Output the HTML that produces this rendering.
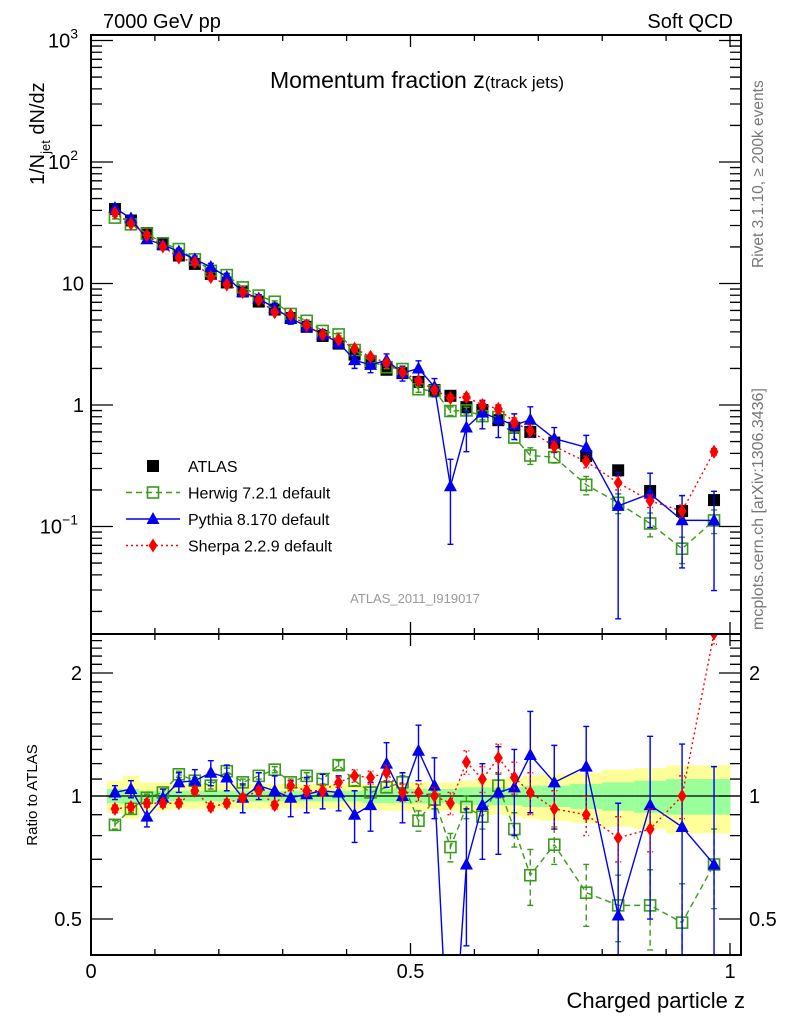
<!DOCTYPE html>
<html><head><meta charset="utf-8"><style>
html,body{margin:0;padding:0;background:#fff;overflow:hidden;width:786px;height:1024px}
svg{display:block}
svg text{font-family:"Liberation Sans","DejaVu Sans",sans-serif}
</style></head><body>
<svg id="c" width="786" height="1024" xmlns="http://www.w3.org/2000/svg">
<defs>
<clipPath id="cm"><rect x="91" y="35" width="650" height="599"/></clipPath>
<clipPath id="cr"><rect x="91" y="634" width="650" height="321"/></clipPath>
</defs>
<text x="103" y="28" font-size="20">7000 GeV pp</text>
<text x="733" y="28" font-size="20" text-anchor="end">Soft QCD</text>
<text x="417" y="88" font-size="23" text-anchor="middle">Momentum fraction z<tspan font-size="17">(track jets)</tspan></text>
<text transform="translate(44,185) rotate(-90)" font-size="20">1/N<tspan font-size="13" dy="6">jet</tspan><tspan dy="-6"> dN/dz</tspan></text>
<text transform="translate(763,268) rotate(-90)" font-size="15.5" fill="#777">Rivet 3.1.10, ≥ 200k events</text>
<text transform="translate(763,630) rotate(-90)" font-size="16" fill="#777">mcplots.cern.ch [arXiv:1306.3436]</text>
<text x="415" y="603" font-size="13" fill="#999" text-anchor="middle">ATLAS_2011_I919017</text>
<text transform="translate(37,795) rotate(-90)" font-size="15" text-anchor="middle">Ratio to ATLAS</text>
<text x="745" y="1008" font-size="22" text-anchor="end">Charged particle z</text>
<g id="band"></g><g id="grid"></g><g id="marks"></g><g id="axes"></g><g id="legend"></g>
</svg>
<script>
const zc=[0.0375,0.0625,0.0875,0.1125,0.1375,0.1625,0.1875,0.2125,0.2375,0.2625,0.2875,0.3125,0.3375,0.3625,0.3875,0.4125,0.4375,0.4625,0.4875,0.5125,0.5375,0.5625,0.5875,0.6125,0.6375,0.6625,0.6875,0.725,0.775,0.825,0.875,0.925,0.975];
const zw=[0.025,0.025,0.025,0.025,0.025,0.025,0.025,0.025,0.025,0.025,0.025,0.025,0.025,0.025,0.025,0.025,0.025,0.025,0.025,0.025,0.025,0.025,0.025,0.025,0.025,0.025,0.025,0.05,0.05,0.05,0.05,0.05,0.05];
const atlas=[41,33,26,21,17,14.5,12,10.2,8.6,7.1,6.1,5.2,4.4,3.7,3.2,2.6,2.25,1.95,1.83,1.55,1.33,1.19,0.96,0.91,0.75,0.65,0.60,0.49,0.38,0.29,0.196,0.134,0.165];
const statRel=[0.04,0.04,0.03,0.03,0.03,0.03,0.03,0.03,0.03,0.03,0.03,0.03,0.03,0.03,0.03,0.03,0.04,0.04,0.04,0.04,0.04,0.04,0.05,0.05,0.05,0.05,0.06,0.06,0.07,0.08,0.09,0.10,0.10];
const totRel=[0.09,0.12,0.08,0.08,0.07,0.07,0.07,0.07,0.07,0.07,0.07,0.07,0.07,0.07,0.07,0.07,0.07,0.08,0.08,0.08,0.08,0.08,0.09,0.10,0.10,0.11,0.12,0.13,0.14,0.16,0.17,0.19,0.19];
const herwig=[0.85,0.93,0.99,1.02,1.13,1.09,1.06,1.15,1.08,1.12,1.16,1.08,1.12,1.10,1.19,1.09,1.02,1.05,1.08,0.87,0.98,0.75,0.94,0.89,1.06,0.83,0.64,0.76,0.58,0.54,0.54,0.49,0.68];
const herwigErr=[0.02,0.02,0.02,0.02,0.02,0.02,0.02,0.02,0.02,0.02,0.02,0.02,0.02,0.03,0.03,0.03,0.03,0.03,0.04,0.05,0.05,0.06,0.06,0.06,0.07,0.08,0.1,0.08,0.1,0.1,0.12,0.12,0.15];
const pythia=[1.02,1.04,0.89,0.99,1.08,1.09,1.14,1.11,0.99,1.06,1.03,0.99,1.01,1.03,1.02,0.90,0.95,1.20,1.0,1.29,1.06,0.18,0.68,0.95,1.02,1.05,1.26,1.08,1.18,0.51,0.95,0.84,0.68];
const pythiaErr=[0.04,0.05,0.05,0.05,0.06,0.07,0.08,0.08,0.08,0.08,0.09,0.1,0.1,0.1,0.1,0.13,0.13,0.15,0.14,0.2,0.18,0.12,0.25,0.25,0.3,0.25,0.35,0.25,0.3,0.45,0.45,0.5,0.5];
const sherpa=[0.93,0.94,0.96,0.96,0.96,1.03,0.94,0.96,0.99,1.03,0.95,1.06,1.03,1.03,1.08,1.12,1.11,1.14,1.02,1.02,1.0,0.96,1.21,1.10,1.24,1.11,1.02,0.93,0.90,0.79,0.83,1.0,2.5];
const sherpaErr=[0.02,0.02,0.02,0.02,0.02,0.02,0.02,0.02,0.02,0.02,0.02,0.03,0.03,0.03,0.03,0.04,0.04,0.05,0.05,0.05,0.05,0.06,0.08,0.08,0.1,0.1,0.12,0.1,0.1,0.1,0.1,0.12,0.15];
const mainTicks=[0.1,1,10,100,1000];
const mainTickLabels=["10","1","10","10","10"];
const mainTickExp=["−1","","","2","3"];
const ratioTicks=[0.5,1,2];
const ratioTickLabels=["0.5","1","2"];
const xTicks=[0,0.5,1];
const xTickLabels=["0","0.5","1"];

const NS="http://www.w3.org/2000/svg";
const X=z=>91+z*639;
const YM=v=>405-121.5*Math.log10(v);
const YR=r=>796-177.5*Math.log(r);
function el(tag,attrs,parent){const e=document.createElementNS(NS,tag);for(const k in attrs)e.setAttribute(k,attrs[k]);parent.appendChild(e);return e;}
const band=document.getElementById('band'),marks=document.getElementById('marks'),axes=document.getElementById('axes'),leg=document.getElementById('legend');

zc.forEach((z,i)=>{
  const x0=X(z-zw[i]/2),w=X(z+zw[i]/2)-x0;
  let r=el('rect',{x:x0,y:YR(1+totRel[i]),width:w+0.5,height:YR(1-totRel[i])-YR(1+totRel[i]),fill:'#ffff99',stroke:'none'},band);
  
  
  let g=el('rect',{x:x0,y:YR(1+statRel[i]),width:w+0.5,height:YR(1-statRel[i])-YR(1+statRel[i]),fill:'#99ff99',stroke:'none'},band);
  
  
});
let ul=el('line',{x1:91,x2:741,y1:YR(1),y2:YR(1),stroke:'#000','stroke-width':1.3},band);



function marker(type,x,y,col,g){
  let m;
  if(type==='sq')m=el('rect',{x:x-6,y:y-6,width:12,height:12,fill:'#000'},g);
  else if(type==='osq')m=el('rect',{x:x-5.5,y:y-5.5,width:11,height:11,fill:'none',stroke:col,'stroke-width':1.6},g);
  else if(type==='tri')m=el('polygon',{points:`${x},${y-7} ${x-6.5},${y+5} ${x+6.5},${y+5}`,fill:col},g);
  else m=el('polygon',{points:`${x},${y-7} ${x-4.5},${y} ${x},${y+7} ${x+4.5},${y}`,fill:col},g);
  return m;
}
const series=[
 {name:'herwig',vals:herwig,err:herwigErr,col:'#3a9a1a',dash:'6,4',mk:'osq'},
 {name:'pythia',vals:pythia,err:pythiaErr,col:'#0000ee',dash:'',mk:'tri'},
 {name:'sherpa',vals:sherpa,err:sherpaErr,col:'#ff0000',dash:'2,3',mk:'dia'}];

const gm=el('g',{'clip-path':'url(#cm)'},marks);
const gr=el('g',{'clip-path':'url(#cr)'},marks);
zc.forEach((z,i)=>{
  const e=el('line',{x1:X(z),x2:X(z),y1:YM(atlas[i]*(1+statRel[i])),y2:YM(atlas[i]*(1-statRel[i])),stroke:'#000'},gm);
  
  
  const m=marker('sq',X(z),YM(atlas[i]),'#000',gm);
  
  
});
series.forEach(s=>{
  [[gm,(i)=>atlas[i]*s.vals[i],(i,d)=>atlas[i]*(s.vals[i]+d),YM],[gr,(i)=>s.vals[i],(i,d)=>s.vals[i]+d,YR]].forEach(([g,vf,ef,Y])=>{
    const pts=zc.map((z,i)=>X(z)+','+Y(vf(i))).join(' ');
    const pl=el('polyline',{points:pts,fill:'none',stroke:s.col,'stroke-width':1.4,'stroke-dasharray':s.dash},g);
    
    
    zc.forEach((z,i)=>{
      const x=X(z),ya=Y(ef(i,s.err[i])),yb=Y(Math.max(ef(i,-s.err[i]),1e-4));
      const e=el('path',{d:`M${x},${ya}V${yb}M${x-3},${ya}H${x+3}M${x-3},${yb}H${x+3}`,stroke:s.col,'stroke-width':1.4,fill:'none','stroke-dasharray':s.dash},g);
      
      
      const m=marker(s.mk,x,Y(vf(i)),s.col,g);
      
      
    });
  });
});

[[35,634],[634,955]].forEach(([t,b])=>{
  const f=el('rect',{x:91,y:t,width:650,height:b-t,fill:'none',stroke:'#000','stroke-width':2},axes);
  
  
  for(let k=0;k<=10;k++){const x=X(k/10),L=(k%5==0)?12:6;
    const tk=el('path',{d:`M${x},${b}v${-L}M${x},${t}v${L}`,stroke:'#000','stroke-width':1.3},axes);
    
    }
});
xTicks.forEach((v,i)=>{
  const t=el('text',{x:X(v),y:978,'font-size':20,'text-anchor':'middle'},axes);t.textContent=xTickLabels[i];
  
  
});
for(let d=-2;d<=3;d++)for(let m=1;m<10;m++){const v=m*Math.pow(10,d),y=YM(v);if(y<35||y>633)continue;
  const L=m==1?22:11;
  const tk=el('path',{d:`M91,${y}h${L}M741,${y}h${-L}`,stroke:'#000','stroke-width':1.3},axes);
  
  }
mainTicks.forEach((v,i)=>{
  const t=el('text',{x:mainTickExp[i]?78:84,y:YM(v)+7,'font-size':20,'text-anchor':'end'},axes);
  t.textContent=mainTickLabels[i];
  if(mainTickExp[i]){const s=el('tspan',{dy:-9,'font-size':14},t);s.textContent=mainTickExp[i];}
  
  
});
[0.5,0.6,0.7,0.8,0.9,1,1.1,1.2,1.3,1.4,1.5,1.6,1.7,1.8,1.9,2,2.1,2.2,2.3,2.4].forEach(v=>{const y=YR(v);
  const L=(v==0.5||v==1||v==2)?22:11;
  const tk=el('path',{d:`M91,${y}h${L}M741,${y}h${-L}`,stroke:'#000','stroke-width':1.3},axes);
  
  });
ratioTicks.forEach((v,i)=>{
  [[82,'end'],[749,'start']].forEach(([x,a])=>{
  const t=el('text',{x:x,y:YR(v)+7,'font-size':20,'text-anchor':a},axes);t.textContent=ratioTickLabels[i];
  
  });
});
const lg=[{n:'ATLAS',mk:'sq',col:'#000',dash:null},{n:'Herwig 7.2.1 default',mk:'osq',col:'#3a9a1a',dash:'6,4'},{n:'Pythia 8.170 default',mk:'tri',col:'#0000ee',dash:''},{n:'Sherpa 2.2.9 default',mk:'dia',col:'#ff0000',dash:'2,3'}];
lg.forEach((e,i)=>{const y=466+i*26.5;
  const g=el('g',{},leg);
  
  
  if(e.dash!==null)el('line',{x1:126,x2:180,y1:y,y2:y,stroke:e.col,'stroke-width':1.4,'stroke-dasharray':e.dash},g);
  marker(e.mk,153,y,e.col,g);
  const t=el('text',{x:188,y:y+6,'font-size':16},g);t.textContent=e.n;
});
</script>
</body></html>
